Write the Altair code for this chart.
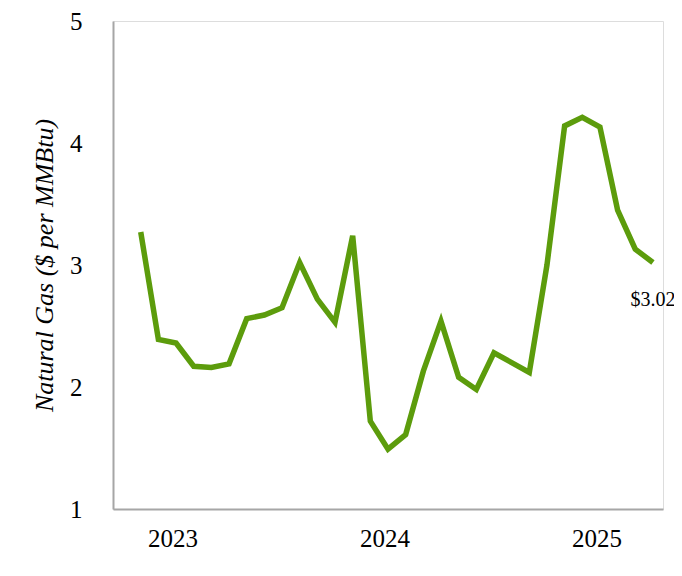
import altair as alt
import pandas as pd

months = [
    "2023-01", "2023-02", "2023-03", "2023-04", "2023-05", "2023-06",
    "2023-07", "2023-08", "2023-09", "2023-10", "2023-11", "2023-12",
    "2024-01", "2024-02", "2024-03", "2024-04", "2024-05", "2024-06",
    "2024-07", "2024-08", "2024-09", "2024-10", "2024-11", "2024-12",
    "2025-01", "2025-02", "2025-03", "2025-04", "2025-05", "2025-06",
]
prices = [
    3.27, 2.39, 2.36, 2.17, 2.16, 2.19,
    2.56, 2.59, 2.65, 3.02, 2.72, 2.53,
    3.24, 1.72, 1.49, 1.61, 2.13, 2.54,
    2.08, 1.98, 2.28, 2.20, 2.12, 3.00,
    4.14, 4.21, 4.13, 3.45, 3.13, 3.02,
]
year_labels = ["2023", "2024", "2025"]
year_label_pos = [1.8, 13.8, 25.8]
last_label = "$3.02"

df = pd.DataFrame({"month": months, "idx": list(range(len(months))), "price": prices})
df_last = df.tail(1).assign(label=last_label)

FONT = "Liberation Serif"
GREEN = "#5c9c0c"
GRAY = "#a6a6a6"

x_enc = alt.X(
    "idx:Q",
    scale=alt.Scale(domain=[-1.57, 29.57], nice=False, zero=False),
    axis=alt.Axis(
        values=year_label_pos,
        labelExpr="floor(2023 + datum.value / 12)",
        title=None,
        grid=False,
        ticks=False,
        domainColor=GRAY,
        domainWidth=2,
        labelFont=FONT,
        labelFontSize=25,
        labelColor="black",
        labelPadding=17,
    ),
)
y_enc = alt.Y(
    "price:Q",
    scale=alt.Scale(domain=[1, 5], nice=False, zero=False),
    axis=alt.Axis(
        values=[1, 2, 3, 4, 5],
        format="d",
        title="Natural Gas ($ per MMBtu)",
        titleFont=FONT,
        titleFontSize=26,
        titleFontStyle="italic",
        titleFontWeight="normal",
        titleColor="black",
        titlePadding=12,
        grid=False,
        ticks=False,
        domainColor=GRAY,
        domainWidth=2,
        labelFont=FONT,
        labelFontSize=25,
        labelColor="black",
        labelPadding=31,
    ),
)

line = alt.Chart(df).mark_line(color=GREEN, strokeWidth=5.5, strokeJoin="miter").encode(
    x=x_enc, y=y_enc
)
text = alt.Chart(df_last).mark_text(
    font=FONT, fontSize=20, color="black", dy=37
).encode(x="idx:Q", y="price:Q", text="label:N")

chart = (
    alt.layer(line, text)
    .properties(
        width=550,
        height=488,
        autosize=alt.AutoSizeParams(type="none"),
        padding={"left": 105, "top": 13, "right": 11, "bottom": 59},
    )
    .configure_view(stroke=None)
    .configure(background="white")
)

chart.save("out.html", embed_options={"renderer": "svg", "actions": False})
